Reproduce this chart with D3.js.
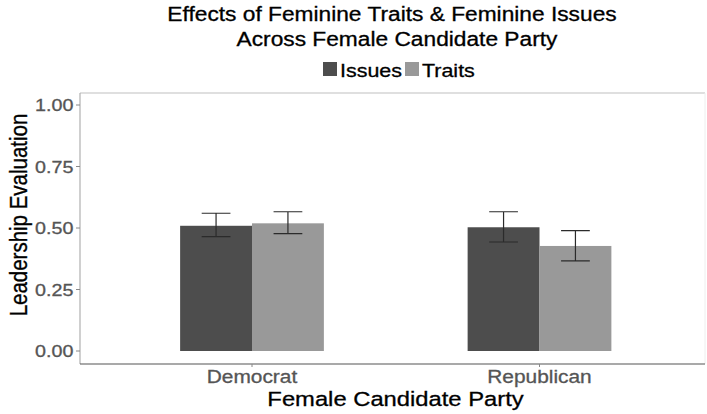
<!DOCTYPE html>
<html>
<head>
<meta charset="utf-8">
<script src="https://cdn.jsdelivr.net/npm/d3@7"></script>
<style>
  html, body { margin: 0; padding: 0; background: #fff; }
  svg { display: block; font-family: "Liberation Sans", Arial, sans-serif; }
</style>
</head>
<body>
<svg id="chart" width="707" height="414"></svg>
<script>
// Data
const parties = ["Democrat", "Republican"];
const groups = ["Issues", "Traits"];
const means = [
  [0.509, 0.519],   // Democrat: Issues, Traits
  [0.503, 0.427]    // Republican: Issues, Traits
];
const lower = [
  [0.465, 0.477],
  [0.443, 0.366]
];
const upper = [
  [0.560, 0.566],
  [0.566, 0.489]
];
const yTicks = [0, 0.25, 0.5, 0.75, 1.0];
const fills = ["#4d4d4d", "#999999"];

const svg = d3.select("#chart");
const SX = 1.16; // horizontal text stretch

const panel = { left: 80, right: 705, top: 93, bottom: 364 };

// scales: discrete positions 1..n on a continuous axis
const x = d3.scaleLinear().domain([1, 2]).range([252, 539.5]);
const y = d3.scaleLinear().domain([0, 1]).range([351, 105]);
const barW = 0.25, dodge = 0.125, capW = 0.1;
const unit = x(2) - x(1);

function text(g, px, py, str, o = {}) {
  const rot = o.rotate ? ` rotate(${o.rotate})` : "";
  const fill = o.fill || "#000";
  return g.append("text")
    .attr("transform", `translate(${px},${py}) scale(${SX},1)${rot}`)
    .attr("text-anchor", o.anchor || "middle")
    .attr("font-size", o.size || 18)
    .attr("fill", fill)
    .attr("stroke", fill)
    .attr("stroke-width", 0.3)
    .text(str);
}

// Panel border
svg.append("line").attr("x1", panel.left).attr("x2", panel.right)
  .attr("y1", panel.top).attr("y2", panel.top).attr("stroke", "#d4d4d4").attr("stroke-width", 1.5);
svg.append("line").attr("x1", panel.right).attr("x2", panel.right)
  .attr("y1", panel.top).attr("y2", panel.bottom).attr("stroke", "#eeeeee").attr("stroke-width", 1);

// Bars
const bars = [];
parties.forEach((p, i) => groups.forEach((g, j) => {
  bars.push({ i: i + 1, j, mean: means[i][j], lo: lower[i][j], hi: upper[i][j] });
}));
const cx = d => x(d.i + (d.j === 0 ? -dodge : dodge));

svg.append("g").selectAll("rect").data(bars).join("rect")
  .attr("x", d => cx(d) - barW * unit / 2)
  .attr("width", barW * unit)
  .attr("y", d => y(d.mean))
  .attr("height", d => y(0) - y(d.mean))
  .attr("fill", d => fills[d.j]);

// Error bars
const eb = svg.append("g").attr("stroke", "#2b2b2b").attr("stroke-width", 1.2).attr("fill", "none");
bars.forEach(d => {
  const c = cx(d), hw = capW * unit / 2;
  eb.append("path").attr("d",
    `M${c - hw},${y(d.hi)}H${c + hw}M${c},${y(d.hi)}V${y(d.lo)}M${c - hw},${y(d.lo)}H${c + hw}`);
});

// Y axis
svg.append("line").attr("x1", panel.left).attr("x2", panel.left)
  .attr("y1", panel.top).attr("y2", panel.bottom).attr("stroke", "#b0b0b0").attr("stroke-width", 1.2);
const ya = svg.append("g");
yTicks.forEach(t => {
  ya.append("line").attr("x1", panel.left - 4).attr("x2", panel.left)
    .attr("y1", y(t)).attr("y2", y(t)).attr("stroke", "#888");
  text(ya, 73.5, y(t) + 6, d3.format(".2f")(t), { anchor: "end", size: 17, fill: "#555" });
});

// X axis
svg.append("line").attr("x1", panel.left).attr("x2", panel.right)
  .attr("y1", panel.bottom).attr("y2", panel.bottom).attr("stroke", "#555").attr("stroke-width", 1.2);
const xa = svg.append("g");
parties.forEach((p, i) => {
  xa.append("line").attr("x1", x(i + 1)).attr("x2", x(i + 1))
    .attr("y1", panel.bottom).attr("y2", panel.bottom + 3).attr("stroke", "#888");
  text(xa, x(i + 1), 383, p, { size: 18, fill: "#555" });
});

// Axis titles
text(svg, 395.5, 406, "Female Candidate Party", { size: 20.5 });
text(svg, 27, 215, "Leadership Evaluation", { size: 20.5, rotate: -90 });

// Title
text(svg, 392, 21, "Effects of Feminine Traits & Feminine Issues", { size: 19.6 });
text(svg, 397, 46, "Across Female Candidate Party", { size: 19.6 });

// Legend
const legendItems = [
  { key: 323, label: 340 },
  { key: 405, label: 422 }
];
groups.forEach((g, j) => {
  svg.append("rect").attr("x", legendItems[j].key).attr("y", 62)
    .attr("width", 14).attr("height", 14).attr("fill", fills[j]);
  text(svg, legendItems[j].label, 76.5, g, { anchor: "start", size: 18.5 });
});
</script>
</body>
</html>
